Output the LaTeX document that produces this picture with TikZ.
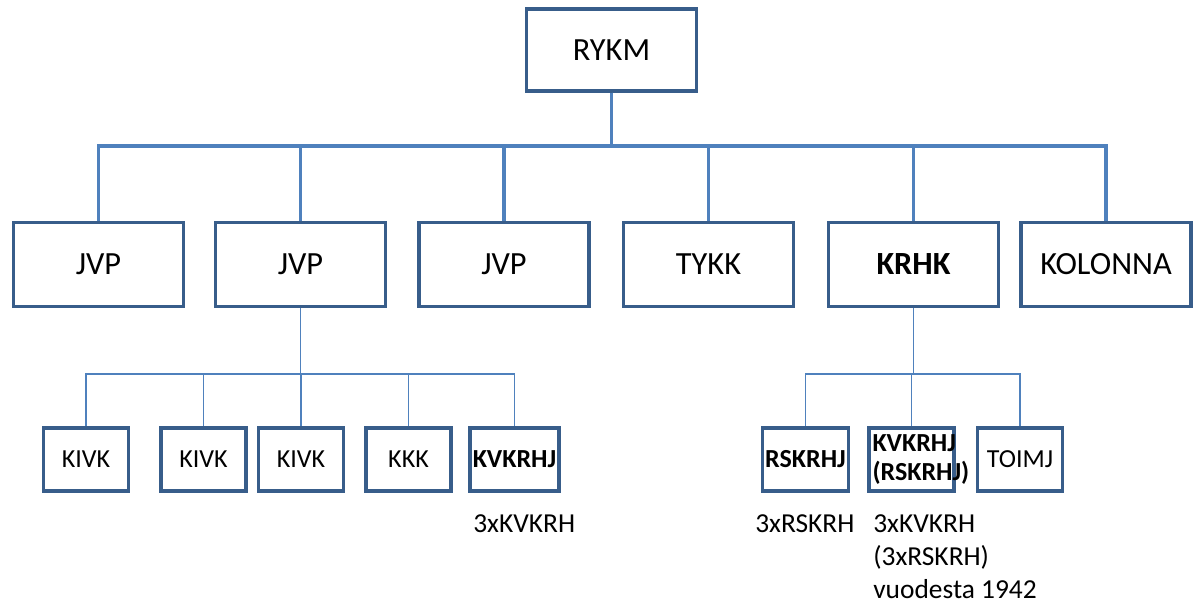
\documentclass[tikz,border=0pt]{standalone}
\usepackage{fontspec}
\setmainfont{Carlito}
\definecolor{boxblue}{HTML}{385D8A}
\definecolor{lineblue}{HTML}{4F81BD}

\begin{document}
\begin{tikzpicture}[x=0.025cm,y=-0.025cm]
\tikzstyle{unit} = [draw=boxblue, line width=2.2pt, fill=white, minimum width=4.25cm, minimum height=2.1cm, font=\fontsize{23}{27}\selectfont]
\tikzstyle{subunit} = [draw=boxblue, line width=2.6pt, fill=white, minimum width=2.12cm, minimum height=1.58cm, inner sep=2pt, font=\fontsize{18.5}{21}\selectfont]
\tikzstyle{bus} = [draw=lineblue, line width=2.8pt]
\tikzstyle{branch} = [draw=lineblue, line width=0.9pt]
\tikzstyle{note} = [anchor=north west, inner sep=0pt, align=left, font=\fontsize{19.5}{23.5}\selectfont]

\useasboundingbox (0,0) rectangle (1202,600);

\node[unit, minimum height=2.05cm] (rykm) at (611.5,50) {RYKM};

\node[unit] (jvpa) at (98.5,264.5) {JVP};
\node[unit] (jvpb) at (300.5,264.5) {JVP};
\node[unit] (jvpc) at (504,264.5) {JVP};
\node[unit] (tykk) at (708.5,264.5) {TYKK};
\node[unit] (krhk) at (913.5,264.5) {\bfseries KRHK};
\node[unit] (kolonna) at (1106,264.5) {KOLONNA};

\node[subunit] (kivka) at (86,459.5) {KIVK};
\node[subunit] (kivkb) at (203.5,459.5) {KIVK};
\node[subunit] (kivkc) at (301,459.5) {KIVK};
\node[subunit] (kkk) at (408.5,459.5) {KKK};
\node[subunit] (kvkrhja) at (514.5,459.5) {\bfseries KVKRHJ};

\node[subunit] (rskrhj) at (805.5,459.5) {\bfseries RSKRHJ};
\node[subunit, text width=1.95cm, align=left, font=\fontsize{18.5}{21}\selectfont\bfseries] (kvkrhjb) at (911.5,459.5) {KVKRHJ\\(RSKRHJ)};
\node[subunit] (toimj) at (1020,459.5) {TOIMJ};

\foreach \u in {jvpa,jvpb,jvpc,tykk,krhk,kolonna}
  \draw[bus] (rykm.south) -- ++(0,53) -| (\u.north);

\foreach \u in {kivka,kivkb,kivkc,kkk,kvkrhja}
  \draw[branch] (jvpb.south) -- ++(0,66) -| (\u.north);

\foreach \u in {rskrhj,kvkrhjb,toimj}
  \draw[branch] (krhk.south) -- ++(0,66) -| (\u.north);

\node[note] (notea) at (473,514) {3xKVKRH};
\node[note] (noteb) at (755,514) {3xRSKRH};
\node[note] (notec) at (873,514) {3xKVKRH\\(3xRSKRH)\\vuodesta 1942};

\end{tikzpicture}
\end{document}
